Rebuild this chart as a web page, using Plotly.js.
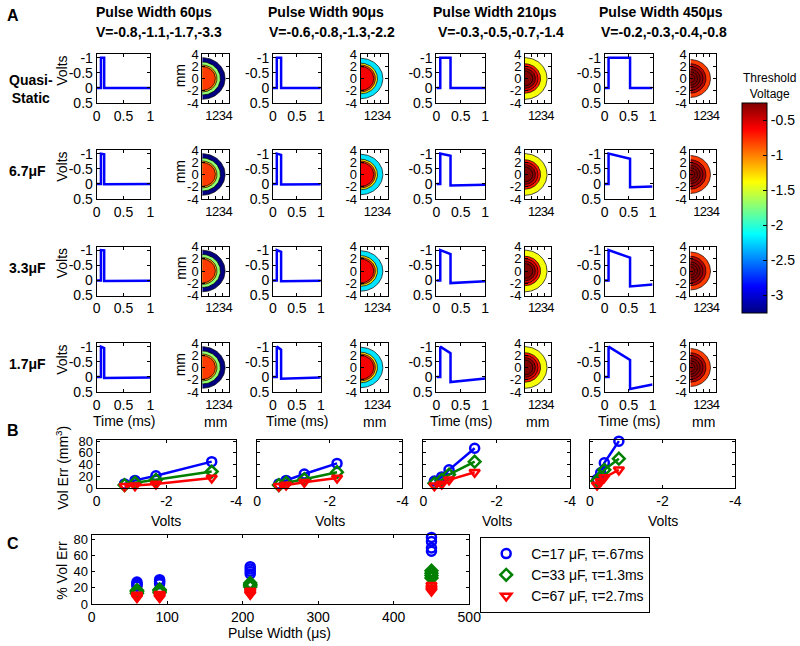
<!DOCTYPE html>
<html><head><meta charset="utf-8">
<script src="https://cdn.plot.ly/plotly-3.0.1.min.js"></script>
<style>html,body{margin:0;padding:0;background:#fff}#chart{width:800px;height:646px}</style>
</head><body><div id="chart"></div>
<script>
// ---------------- DATA ----------------
const pulseWidths = [60, 90, 210, 450];               // μs
const colVoltages = [[-0.8,-1.1,-1.7,-3.3],[-0.6,-0.8,-1.3,-2.2],[-0.3,-0.5,-0.7,-1.4],[-0.2,-0.3,-0.4,-0.8]];
const rowLabels = ['Quasi-<br>Static', '6.7μF', '3.3μF', '1.7μF'];
const pulseStart = 0.08;                              // ms
// normalised waveform key values [row][col]
const wfEnd   = [[-1,-1,-1,-1],[-0.98,-0.96,-0.93,-0.83],[-0.99,-0.94,-0.87,-0.75],[-0.95,-0.9,-0.78,-0.56]];
const wfAfter = [[0,0,0,0],[0.01,0.02,0.05,0.11],[0.02,0.03,0.09,0.2],[0.04,0.06,0.17,0.4]];
const wfFinal = [[0,0,0,0],[0,0.01,0.03,0.09],[0.01,0.01,0.03,0.14],[0.02,0.02,0.05,0.25]];
// threshold-voltage contour rings per column (outer -> inner)
const ringLevels = [[-3.3,-1.7,-1.1,-0.8],[-2.2,-1.3,-0.8,-0.6],[-1.4,-0.7,-0.5,-0.3,-0.25],[-0.8,-0.4,-0.3,-0.2,-0.2,-0.2]];
const ringRadii  = [[3.4,2.7,2.2,1.95],[3.3,2.5,2.2,1.95],[3.4,2.4,2.0,1.6,1.2],[3.1,2.4,1.95,1.5,1.1,0.7]];
const cbMin = -3.25, cbMax = -0.25;
const cbTicks = [-3,-2.5,-2,-1.5,-1,-0.5];
// B: volume error (mm^3) vs volts
const bBlue  = [[7,13,21,45],[7,13,24,42],[12,19,31,68],[15,26,43,80]];
const bGreen = [[5,9,14,28],[5,9,15,27],[8,14,23,45],[12,19,31,50]];
const bRed   = [[3,4,7,17],[3,5,10,17],[4,7,14,27],[5,11,18,31]];
// C: % volume error vs pulse width
const cBlue  = [[22,24,25,27],[25,27,28,30],[37,40,43,46],[65,69,77,82]];
const cGreen = [[13,15,16,17],[14,16,17,18],[21,23,24,26],[32,35,38,41]];
const cRed   = [[8,9,10,11],[8,9,11,12],[12,13,15,16],[16,18,20,23]];
const legendNames = ['C=17 μF, τ=.67ms','C=33 μF, τ=1.3ms','C=67 μF, τ=2.7ms'];

// ---------------- LAYOUT GEOMETRY (pixels) ----------------
const W=800,H=646;
const fx=p=>p/W, fy=p=>1-p/H;
const wfX=[[97,151],[274,322],[438,487],[607,655]];
const ctX=[[203,230],[362,389],[527,553],[693,719]];
const rowTop=[54,150,246.5,343], rowH=49;
const bX=[[97,237],[258,404],[425,572],[592,738]], bY=[440,488];
const cX=[92,471], cY=[535,604];

const FONT='Liberation Sans, Arial, Helvetica, sans-serif';
function jet(v){let t=(v-cbMin)/(cbMax-cbMin);t=Math.max(0,Math.min(1,t));
  const c=x=>Math.round(255*Math.max(0,Math.min(1,x)));
  return 'rgb('+c(1.5-Math.abs(4*t-3))+','+c(1.5-Math.abs(4*t-2))+','+c(1.5-Math.abs(4*t-1))+')';}
const jetScale=[];for(let i=0;i<=32;i++){const t=i/32;jetScale.push([t,jet(cbMin+t*(cbMax-cbMin))]);}

const traces=[], layout={width:W,height:H,margin:{l:0,r:0,t:0,b:0},paper_bgcolor:'#fff',plot_bgcolor:'#fff',
  font:{family:FONT,size:14,color:'#000'},showlegend:true,annotations:[]};
let axN=0;
function baseAx(extra){return Object.assign({showline:true,linecolor:'#000',linewidth:1,mirror:'ticks',ticks:'inside',ticklen:3,tickcolor:'#000',
  showgrid:false,zeroline:false,tickfont:{size:14,color:'#000',family:FONT},fixedrange:true,tickangle:0,tickmode:'array'},extra);}
function addAxes(xd,yd,xo,yo){axN++;const k=axN===1?'':axN;
  layout['xaxis'+k]=baseAx(Object.assign({domain:[fx(xd[0]),fx(xd[1])],anchor:'y'+k},xo));
  layout['yaxis'+k]=baseAx(Object.assign({domain:[fy(yd[1]),fy(yd[0])],anchor:'x'+k},yo));
  return {x:'x'+k,y:'y'+k};}
const lab=v=>String(v);

// waveform panels
for(let r=0;r<4;r++)for(let c=0;c<4;c++){
  const a=addAxes(wfX[c],[rowTop[r],rowTop[r]+rowH],
    {range:[0,1],tickvals:[0,0.5,1],ticktext:['0','0.5','1']},
    {range:[0.5,-1.12],tickvals:[-1,-0.5,0,0.5],ticktext:['-1','-0.5','0','0.5']});
  const t1=pulseStart+pulseWidths[c]/1000;
  traces.push({type:'scatter',mode:'lines',xaxis:a.x,yaxis:a.y,showlegend:false,hoverinfo:'skip',
    x:[0,pulseStart,pulseStart,t1,t1,1],y:[0,0,-1,wfEnd[r][c],wfAfter[r][c],wfFinal[r][c]],
    line:{color:'#0000ff',width:2.5},cliponaxis:true});
}
// contour panels
let firstCt=null;
for(let r=0;r<4;r++)for(let c=0;c<4;c++){
  const a=addAxes(ctX[c],[rowTop[r],rowTop[r]+rowH],
    {range:[0,4],tickvals:[1,2,3,4],ticktext:['1','2','3','4'],tickfont:{size:13,family:FONT,color:'#000'}},
    {range:[-4,4],tickvals:[-4,-2,0,2,4],ticktext:['-4','-2','0','2','4'],tickfont:{size:13,family:FONT,color:'#000'}});
  if(!firstCt)firstCt=a;
  ringRadii[c].forEach((rad,i)=>{const xs=[],ys=[];
    for(let d=-90;d<=90;d+=3){const th=d*Math.PI/180;xs.push(rad*Math.cos(th));ys.push(rad*Math.sin(th));}
    traces.push({type:'scatter',mode:'lines',xaxis:a.x,yaxis:a.y,showlegend:false,hoverinfo:'skip',x:xs,y:ys,
      fill:'toself',fillcolor:jet(ringLevels[c][i]),line:{color:'#000',width:0.7}});
  });
}
// colorbar carrier
traces.push({type:'scatter',mode:'markers',xaxis:firstCt.x,yaxis:firstCt.y,showlegend:false,hoverinfo:'skip',
  x:ringRadii[0],y:ringRadii[0].map(()=>0),
  marker:{size:1,opacity:0,color:ringLevels[0],colorscale:jetScale,cmin:cbMin,cmax:cbMax,showscale:true,
    colorbar:{x:fx(745),xanchor:'left',y:fy(313),yanchor:'bottom',len:(313-103)/H,lenmode:'fraction',thickness:25,thicknessmode:'pixels',
      outlinecolor:'#000',outlinewidth:1,tickvals:cbTicks,ticktext:cbTicks.map(lab),ticks:'inside',ticklen:4,tickcolor:'#000',
      tickfont:{size:14,family:FONT,color:'#000'},xpad:0,ypad:0}}});

// B panels
const colors=['#0000ff','#008000','#ff0000'], symbols=['circle-open','diamond-open','triangle-down-open'];
for(let c=0;c<4;c++){
  const a=addAxes(bX[c],bY,{range:[0,-4],tickvals:[0,-2,-4],ticktext:['0','-2','-4']},
    {range:[0,82],tickvals:[0,20,40,60,80],ticktext:['0','20','40','60','80'],showticklabels:c===0,tickfont:{size:13,family:FONT,color:'#000'}});
  [bBlue,bGreen,bRed].forEach((s,i)=>traces.push({type:'scatter',mode:'lines+markers',xaxis:a.x,yaxis:a.y,showlegend:false,hoverinfo:'skip',
    x:colVoltages[c],y:s[c],line:{color:colors[i],width:2.5},cliponaxis:false,
    marker:{symbol:symbols[i],size:9,color:colors[i],line:{color:colors[i],width:2.5}}}));
}
// C panel
const ac=addAxes(cX,cY,{range:[0,500],tickvals:[0,100,200,300,400,500],ticktext:['0','100','200','300','400','500']},
  {range:[0,85],tickvals:[0,20,40,60,80],ticktext:['0','20','40','60','80'],tickfont:{size:13,family:FONT,color:'#000'}});
[cBlue,cGreen,cRed].forEach((s,i)=>traces.push({type:'scatter',mode:'markers',xaxis:ac.x,yaxis:ac.y,name:legendNames[i],hoverinfo:'skip',
  x:pulseWidths.flatMap((pw,j)=>s[j].map(()=>pw)),y:s.flat(),cliponaxis:false,
  marker:{symbol:symbols[i],size:9,color:colors[i],line:{color:colors[i],width:2.5}}}));
layout.legend={x:fx(482),y:fy(537),xanchor:'left',yanchor:'top',bordercolor:'#000',borderwidth:1,bgcolor:'#fff',
  font:{size:14,family:FONT,color:'#000'},tracegroupgap:0,itemwidth:40};

// ---------------- TEXT ----------------
function ann(text,px,py,o){layout.annotations.push(Object.assign({text:text,x:fx(px),y:fy(py),xref:'paper',yref:'paper',showarrow:false,
  xanchor:'center',yanchor:'middle',font:{size:14,family:FONT,color:'#000'}},o||{}));}
const titleCx=[155,327,497,663], vCx=[160,333,503,667];
for(let c=0;c<4;c++){
  ann('<b>Pulse Width '+pulseWidths[c]+'μs</b>',titleCx[c],12);
  ann('<b>V='+colVoltages[c].map(lab).join(',')+'</b>',vCx[c],32);
  ann('Time (ms)',(wfX[c][0]+wfX[c][1])/2,421);
  ann('mm',(ctX[c][0]+ctX[c][1])/2,422);
  ann('Volts',(bX[c][0]+bX[c][1])/2,521);
}
for(let r=0;r<4;r++){
  ann('<b>'+rowLabels[r]+'</b>',7,r===0?88.5:rowTop[r]+21,{xanchor:'left'});
  ann('Volts',62,rowTop[r]+17,{textangle:-90});
  ann('mm',181,rowTop[r]+22,{textangle:-90});
}
ann('<b>A</b>',13,15,{font:{size:16,family:FONT,color:'#000'}});
ann('<b>B</b>',13,430,{font:{size:16,family:FONT,color:'#000'}});
ann('<b>C</b>',13,543,{font:{size:16,family:FONT,color:'#000'}});
ann('Vol Err (mm<sup>3</sup>)',62,468,{textangle:-90});
ann('% Vol Err',62,570,{textangle:-90});
ann('Pulse Width (μs)',281,633);
ann('Threshold<br>Voltage',772,86,{font:{size:12,family:FONT,color:'#000'}});

Plotly.newPlot('chart',traces,layout,{displayModeBar:false,staticPlot:true});
</script></body></html>
